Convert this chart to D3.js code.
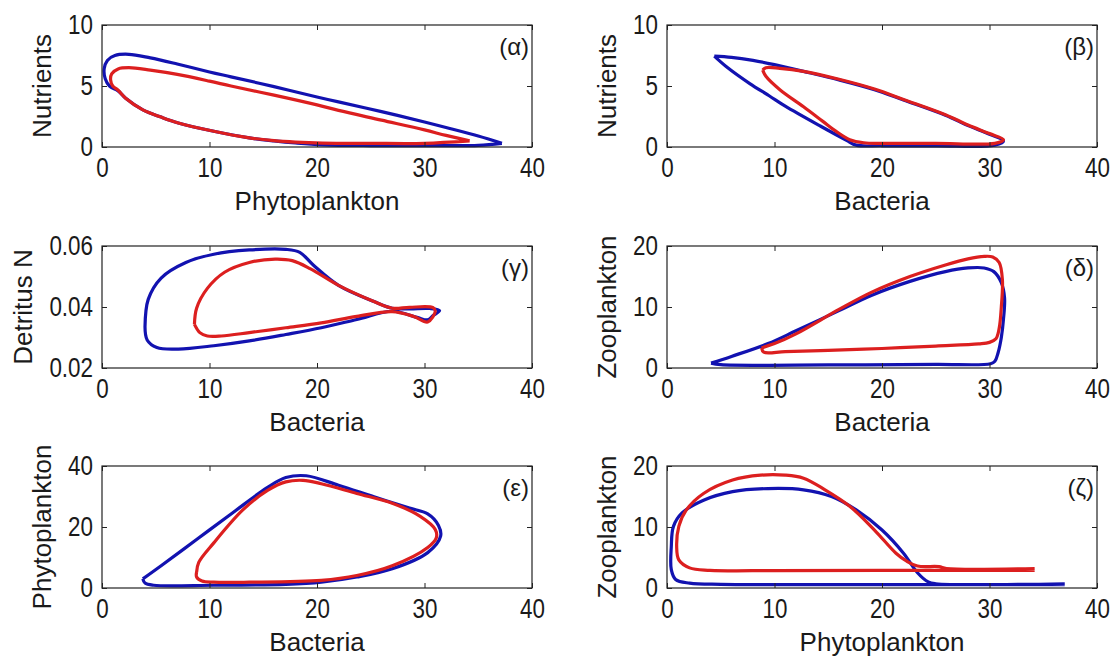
<!DOCTYPE html>
<html>
<head>
<meta charset="utf-8">
<script src="https://cdn.jsdelivr.net/npm/d3@7"></script>
<style>
  body { margin: 0; background: #fff; }
  text { fill: #1a1a1a; }
  .tick text { font-family: "Liberation Sans", Arial, sans-serif; font-size: 28px; }
  .lab { font-family: "Liberation Sans", Arial, sans-serif; font-size: 26px; }
  .tag { font-family: "Liberation Sans", Arial, sans-serif; font-size: 24px; }
</style>
</head>
<body>
<svg id="chart" width="1116" height="662"></svg>
<script>
// tick values
var xTicks = [0, 10, 20, 30, 40]
var nutrientTicks = [0, 5, 10]
var detritusTicks = [0.02, 0.04, 0.06]
var zooTicks = [0, 10, 20]
var phytoTicks = [0, 20, 40]

// (α) phytoplankton vs nutrients
var alphaBlue = [[37.2,0.3],[35,0.9],[32,1.6],[30,2.05],[26,2.9],[22,3.7],[20,4.1],[16,4.95],[12,5.75],[10,6.15],[7,6.8],[4.5,7.3],[2.5,7.6],[1.2,7.5],[0.5,7.1],[0.2,6.4],[0.3,5.6],[0.7,5.0],[1.5,4.6],[2.2,4.0],[3.8,3.05],[5.5,2.45],[7.1,1.97],[10.4,1.29],[13.7,0.75],[16,0.5],[18,0.33],[20.5,0.18],[25,0.12],[30,0.12],[35,0.13],[37.2,0.3]]
var alphaRed = [[34.2,0.5],[32,0.95],[30,1.4],[26,2.2],[22,3.0],[20,3.45],[16,4.25],[12,5.0],[10,5.4],[7,5.95],[4.5,6.3],[2.5,6.5],[1.5,6.4],[0.9,6.0],[0.8,5.5],[1.0,5.0],[1.5,4.65],[2.2,4.0],[3.8,3.05],[5.5,2.45],[7.1,1.97],[10.4,1.29],[13.7,0.75],[16,0.52],[18,0.4],[20.5,0.32],[25,0.3],[30,0.3],[34.2,0.5]]

// (β) bacteria vs nutrients
var betaBlue = [[4.4,7.45],[5.5,6.6],[7.7,5.2],[9.5,4.2],[11,3.35],[14.3,1.7],[16.7,0.55],[17.6,0.15],[20,0.1],[25,0.1],[30.5,0.15],[31.3,0.5],[30,1.05],[28,1.75],[25.9,2.6],[22,3.85],[19.3,4.7],[16,5.5],[12.7,6.2],[10,6.75],[8,7.1],[6,7.35],[4.4,7.45]]
var betaRed = [[8.9,6.3],[9.2,5.8],[10.5,4.7],[12.7,3.3],[14.5,2.1],[15.7,1.3],[17,0.6],[18.3,0.35],[20,0.3],[25,0.3],[30.5,0.3],[31.3,0.6],[30,1.1],[28,1.8],[25.9,2.65],[22,3.9],[19.3,4.75],[16,5.55],[12.7,6.2],[10.5,6.45],[9.2,6.5],[8.9,6.3]]

// (γ) bacteria vs detritus N
var gammaBlue = [[4.0,0.0335],[4.3,0.0425],[5.5,0.0495],[7.8,0.0546],[10.4,0.0573],[13.7,0.0587],[17.1,0.0589],[18.4,0.0579],[19.7,0.0536],[22,0.0471],[25.3,0.0418],[27,0.0396],[28.6,0.0394],[30.5,0.0395],[31.4,0.0388],[30.8,0.0372],[30.3,0.0358],[29.3,0.0366],[27,0.0386],[23.7,0.0359],[20.4,0.0332],[17.1,0.031],[13.7,0.0289],[10.4,0.0273],[7.1,0.0262],[5.1,0.0267],[4.2,0.0292],[4.0,0.0335]]
var gammaRed = [[8.6,0.0343],[8.8,0.0396],[9.8,0.0461],[11.4,0.0514],[13.7,0.0546],[16.1,0.0557],[17.7,0.0552],[19.4,0.0525],[22,0.0471],[25.3,0.0418],[27,0.0396],[28.6,0.0399],[30.8,0.0398],[31,0.0386],[30.3,0.0351],[29,0.0369],[27,0.0385],[23.7,0.0369],[20.4,0.0348],[17.1,0.0332],[13.7,0.0316],[11.1,0.0305],[9.8,0.0305],[9.1,0.0316],[8.6,0.0343]]

// (δ) bacteria vs zooplankton
var deltaBlue = [[4.1,0.8],[6,1.9],[9.4,4.0],[12,6.1],[16,9.4],[19,11.9],[22.6,14.2],[25.9,15.8],[28,16.4],[29.5,16.4],[30.4,15.8],[31.1,14.0],[31.4,11.5],[31.3,8],[31.1,5],[30.8,2.5],[30.5,1.1],[30.1,0.7],[25,0.6],[15,0.5],[5,0.55],[4.1,0.8]]
var deltaRed = [[8.8,3.3],[10,4.0],[12,5.6],[16,9.6],[19,12.4],[22.6,15.0],[25.9,16.9],[28,17.9],[29.5,18.3],[30.3,18.2],[30.9,17.3],[31.2,14.5],[31.1,10],[30.9,6.5],[30.6,4.8],[30,4.2],[29,3.95],[25,3.6],[20,3.2],[15,2.9],[11,2.7],[9,2.6],[8.8,3.3]]

// (ε) bacteria vs phytoplankton
var epsBlue = [[3.8,3.0],[5.5,7.3],[8.8,15.9],[12.1,24.5],[15.4,33.0],[17.1,36.2],[19,36.8],[22,33.7],[25.3,29.9],[28.6,26.2],[30.3,24.3],[31.3,20.5],[31.5,17],[30.3,11.6],[27,6.3],[23.7,3.6],[20.4,1.9],[17.1,1.2],[10.4,0.9],[4.8,0.9],[4.0,1.6],[3.8,3.0]]
var epsRed = [[8.8,5.2],[9,8.4],[10.4,14.8],[13.1,25.6],[15.4,32.0],[17.1,34.8],[18.7,35.3],[20.4,34.2],[23.7,31.0],[27,27.8],[29.6,23.5],[31,19.2],[31.1,16.5],[30.3,13.3],[27,7.3],[23.7,4.1],[20.4,2.5],[13.7,1.9],[10.4,1.9],[9.3,2.3],[8.8,3.6],[8.8,5.2]]

// (ζ) phytoplankton vs zooplankton
var zetaBlue = [[37,0.55],[25,0.55],[10,0.55],[5,0.6],[2.1,0.8],[0.8,1.4],[0.4,3.0],[0.4,6.8],[0.6,10.1],[1.4,12.3],[3.4,14.4],[6.1,15.8],[9.4,16.3],[12.7,16.1],[15.3,15.0],[17.6,12.8],[20,9.5],[22,5.7],[23.3,2.5],[24.3,1.0],[25,0.7],[37,0.7]]
var zetaRed = [[34.2,3.2],[26,3.2],[25.3,3.5],[23.3,3.6],[22.3,4.4],[21.3,5.7],[19.3,9.5],[17,13.4],[14.7,16.1],[12.7,18.0],[11,18.5],[8.7,18.5],[6.1,17.7],[3.4,15.5],[1.8,12.8],[1.1,10.1],[0.9,6.8],[1.1,4.6],[2.1,3.3],[4,2.9],[10,2.85],[20,2.9],[34.2,2.9]]

var panels = [
  { tag: '(\u03b1)', xLabel: 'Phytoplankton', yLabel: 'Nutrients', yTicks: nutrientTicks, blue: alphaBlue, red: alphaRed, col: 0, row: 0 },
  { tag: '(\u03b2)', xLabel: 'Bacteria', yLabel: 'Nutrients', yTicks: nutrientTicks, blue: betaBlue, red: betaRed, col: 1, row: 0 },
  { tag: '(\u03b3)', xLabel: 'Bacteria', yLabel: 'Detritus N', yTicks: detritusTicks, blue: gammaBlue, red: gammaRed, col: 0, row: 1, yFmt: '.2f' },
  { tag: '(\u03b4)', xLabel: 'Bacteria', yLabel: 'Zooplankton', yTicks: zooTicks, blue: deltaBlue, red: deltaRed, col: 1, row: 1 },
  { tag: '(\u03b5)', xLabel: 'Bacteria', yLabel: 'Phytoplankton', yTicks: phytoTicks, blue: epsBlue, red: epsRed, col: 0, row: 2 },
  { tag: '(\u03b6)', xLabel: 'Phytoplankton', yLabel: 'Zooplankton', yTicks: zooTicks, blue: zetaBlue, red: zetaRed, col: 1, row: 2 }
]

var colLeft = [102, 667], plotW = 430
var rowTop = [25, 246, 466], plotH = 122

var svg = d3.select('#chart')

// MATLAB-style narrow tick digits
function narrow(sel) {
  sel.selectAll('.tick text').each(function() {
    var w = this.getComputedTextLength()
    d3.select(this).attr('textLength', w * 0.8).attr('lengthAdjust', 'spacingAndGlyphs')
  })
}

panels.forEach(function(p) {
  var x0 = colLeft[p.col], y0 = rowTop[p.row]
  var x = d3.scaleLinear().domain([xTicks[0], xTicks[xTicks.length - 1]]).range([0, plotW])
  var y = d3.scaleLinear().domain([p.yTicks[0], p.yTicks[p.yTicks.length - 1]]).range([plotH, 0])

  var g = svg.append('g').attr('transform', 'translate(' + x0 + ',' + y0 + ')')

  var line = d3.line()
      .x(function(d) { return x(d[0]) })
      .y(function(d) { return y(d[1]) })
      .curve(d3.curveCatmullRom.alpha(0.5))

  g.append('path').datum(p.blue)
      .attr('d', line).attr('fill', 'none')
      .attr('stroke', '#1212b0').attr('stroke-width', 3.2).attr('stroke-linejoin', 'round')
  g.append('path').datum(p.red)
      .attr('d', line).attr('fill', 'none')
      .attr('stroke', '#dc1f1f').attr('stroke-width', 3.2).attr('stroke-linejoin', 'round')

  // box
  g.append('rect').attr('width', plotW).attr('height', plotH)
      .attr('fill', 'none').attr('stroke', '#222').attr('stroke-width', 1.2)

  var gx = g.append('g').attr('transform', 'translate(0,' + plotH + ')')
      .call(d3.axisBottom(x).tickValues(xTicks).tickSize(-5).tickPadding(10).tickFormat(d3.format('d')))
  var gxt = g.append('g')
      .call(d3.axisTop(x).tickValues(xTicks).tickSize(-5).tickFormat(''))
  var gy = g.append('g')
      .call(d3.axisLeft(y).tickValues(p.yTicks).tickSize(-5).tickPadding(9).tickFormat(d3.format(p.yFmt || 'd')))
  var gyr = g.append('g').attr('transform', 'translate(' + plotW + ',0)')
      .call(d3.axisRight(y).tickValues(p.yTicks).tickSize(-5).tickFormat(''))

  ;[gx, gxt, gy, gyr].forEach(function(a) {
    a.select('.domain').remove()
    a.selectAll('.tick line').attr('stroke', '#222')
    a.selectAll('.tick text').attr('fill', '#1a1a1a')
  })
  narrow(gx)
  narrow(gy)

  g.append('text').attr('class', 'lab')
      .attr('x', plotW / 2).attr('y', plotH + 63)
      .attr('text-anchor', 'middle')
      .text(p.xLabel)

  var bb = gy.node().getBBox()
  var lx = bb.x - 17
  g.append('text').attr('class', 'lab')
      .attr('transform', 'translate(' + lx + ',' + (plotH / 2) + ') rotate(-90)')
      .attr('text-anchor', 'middle')
      .text(p.yLabel)

  g.append('text').attr('class', 'tag')
      .attr('x', plotW - 3).attr('y', 30)
      .attr('text-anchor', 'end')
      .text(p.tag)
})
</script>
</body>
</html>
